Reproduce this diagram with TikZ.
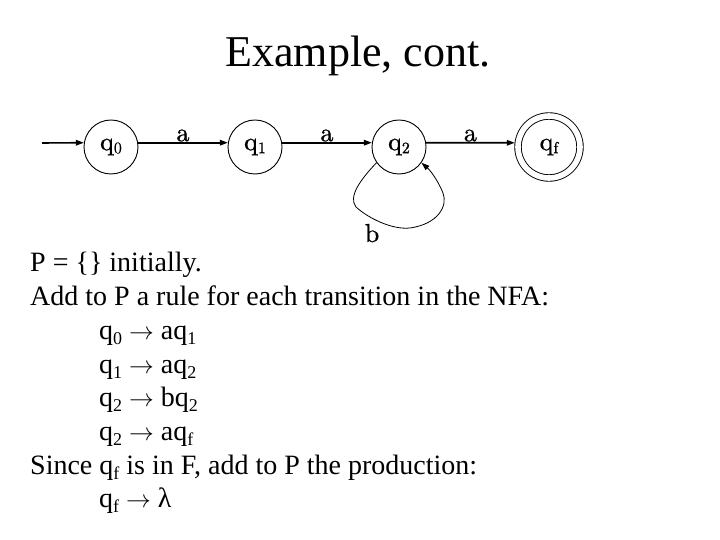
\documentclass[tikz,border=0pt]{standalone}
\usepackage{fontspec}
\setmainfont{Liberation Serif}
\newfontfamily\lmten{lmroman10-regular}[Extension=.otf,FakeBold=0.8]
\usetikzlibrary{arrows.meta}
\newcommand\bsub[1]{\raisebox{-5bp}{\fontsize{18bp}{18bp}\selectfont #1}}
\newcommand\dsub[1]{\raisebox{-3bp}{\fontsize{16bp}{16bp}\selectfont #1}}
\newcommand\dfont{\lmten\fontsize{26bp}{26bp}\selectfont}
\newcommand\bodyfont{\fontsize{28bp}{34bp}\selectfont}
\begin{document}
\begin{tikzpicture}[x=1bp,y=-1bp,
  state/.style={circle,draw,line width=0.9bp,minimum size=54bp,inner sep=0pt,font=\dfont},
  final/.style={circle,draw,line width=0.9bp,double,double distance=5.6bp,minimum size=62bp,inner sep=0pt,outer sep=3.5bp,font=\dfont},
  edge/.style={line width=1.6bp,-{Triangle[length=8bp,width=5.5bp]}},
  loopedge/.style={line width=0.8bp,-{Triangle[length=8bp,width=5.5bp]}},
  elabel/.style={font=\dfont,anchor=base,inner sep=0pt,yshift=1.5bp},
  line/.style={font=\bodyfont,anchor=base west,inner sep=0pt}]
\useasboundingbox (0,0) rectangle (720,540);
\node[font=\fontsize{44bp}{44bp}\selectfont,anchor=base,inner sep=0pt] (title) at (358,67) {Example, cont.};
\node[state] (q0) at (111,147) {q\dsub{0}};
\node[state] (q1) at (255,147) {q\dsub{1}};
\node[state] (q2) at (399,147) {q\dsub{2}};
\node[final] (qf) at (549,147) {q\dsub{f}};
\coordinate (init) at (42,143);
\draw[edge] (init) -- (q0.171);
\draw[edge] (q0.9) -- node[elabel] (a1) {a} (q1.171);
\draw[edge] (q1.9) -- node[elabel] (a2) {a} (q2.171);
\draw[edge] (q2.9) -- node[elabel] (a3) {a} (qf.173);
\draw[loopedge] (q2.215) .. controls (360,180) and (348,197) .. (356,207)
  .. controls (368,218) and (392,230) .. (410,228)
  .. controls (438,224) and (448,206) .. (443,193)
  .. controls (439,183) and (432,172) .. (q2.-35);
\node[font=\dfont,anchor=base,inner sep=0pt] (b) at (372,242) {b};
\node[line] (l1) at (30,272) {P = \{\} initially.};
\node[line] (l2) at (30,305.7) {Add to P a rule for each transition in the NFA:};
\node[line] (l3) at (99,339.4) {q\bsub{0} $\rightarrow$ aq\bsub{1}};
\node[line] (l4) at (99,373.1) {q\bsub{1} $\rightarrow$ aq\bsub{2}};
\node[line] (l5) at (99,406.8) {q\bsub{2} $\rightarrow$ bq\bsub{2}};
\node[line] (l6) at (99,440.5) {q\bsub{2} $\rightarrow$ aq\bsub{f}};
\node[line] (l7) at (30,474.2) {Since q\bsub{f} is in F, add to P the production:};
\node[line] (l8) at (99,507.9) {q\bsub{f} $\rightarrow$ λ};
\end{tikzpicture}
\end{document}
